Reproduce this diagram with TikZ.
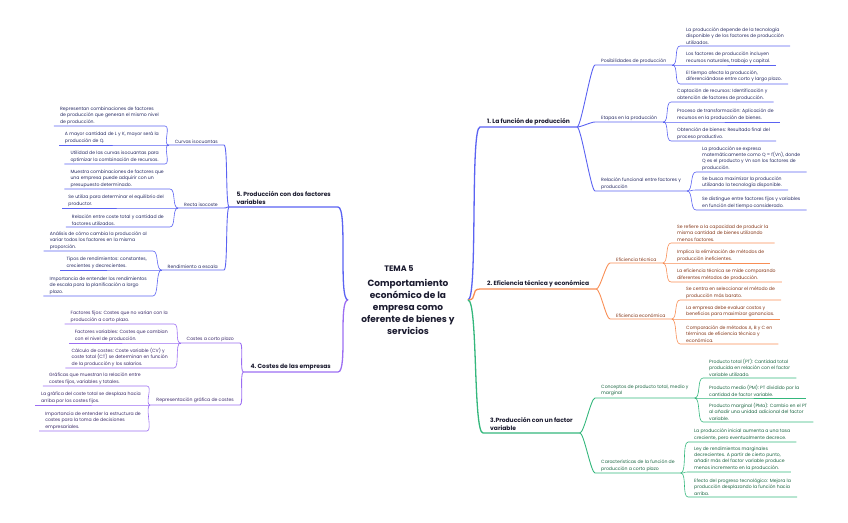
\documentclass[tikz,border=0pt]{standalone}
\usepackage{fontspec}
\setmainfont{Poppins}
\usepackage{tikz}
\definecolor{blueline}{HTML}{5B63F2}
\definecolor{bluetext}{HTML}{262A62}
\definecolor{orangeline}{HTML}{F88E55}
\definecolor{orangetext}{HTML}{833516}
\definecolor{greenline}{HTML}{34B77C}
\definecolor{greentext}{HTML}{1B6541}
\definecolor{purpleline}{HTML}{9C6EF2}
\definecolor{purpletext}{HTML}{3A2968}
\definecolor{ink}{HTML}{1B1B2F}
\newcommand{\mmleaf}{\fontsize{4.6}{6.3}\selectfont}
\newcommand{\mmbranch}{\fontsize{6}{8.4}\selectfont\bfseries}
\newcommand{\mmtitle}{\fontsize{9}{12}\selectfont\bfseries}
\newcommand{\mmtema}{\fontsize{8}{10}\selectfont\bfseries}
\tikzstyle{leafR} = [
 anchor = south west,
 align = left,
 inner xsep = 6pt,
 inner ysep = 1.6pt,
 font = \mmleaf
]
\tikzstyle{leafL} = [leafR, anchor = south east]
\tikzstyle{branchR} = [
 anchor = south west,
 align = left,
 inner xsep = 7pt,
 inner ysep = 2pt,
 font = \mmbranch,
 text = ink
]
\tikzstyle{branchL} = [branchR, anchor = south east]
\tikzstyle{centre} = [align = center, font = \mmtitle, text = ink]
\tikzstyle{trunk} = [line width = 1.3pt]
\tikzstyle{twig} = [line width = 0.9pt]
\tikzstyle{leafline} = [line width = 0.6pt]

\begin{document}
\begin{tikzpicture}[x=1pt, y=-1pt]
  \useasboundingbox (0,0) rectangle (848,522);

  \node [centre] (tema) at (408,300) {{\mmtema TEMA 5}\hspace*{18pt}\\[3pt]Comportamiento\\económico de la\\empresa como\\oferente de bienes y\\servicios};
  \coordinate (cR) at (468,300);
  \coordinate (cL) at (348,300);

  % 1. funcion de produccion
  \begin{scope}[color=blueline, every node/.append style={text=bluetext}]
    \node [branchR] (m1) at (480,127) {1.~La función de producción};
    \node [leafR] (s11) at (595,65) {Posibilidades de producción};
    \node [leafR] (s12) at (595,122) {Etapas en la producción};
    \node [leafR] (s13) at (595,191) {Relación funcional entre factores y\\producción};
    \node [leafR] (l111) at (680,46) {La producción depende de la tecnología\\disponible y de los factores de producción\\utilizados.};
    \node [leafR] (l112) at (680,65) {Los factores de producción incluyen\\recursos naturales, trabajo y capital.};
    \node [leafR] (l113) at (680,84) {El tiempo afecta la producción,\\diferenciándose entre corto y largo plazo.};
    \node [leafR] (l121) at (671,102) {Captación de recursos: Identificación y\\obtención de factores de producción.};
    \node [leafR] (l122) at (671,122) {Proceso de transformación: Aplicación de\\recursos en la producción de bienes.};
    \node [leafR] (l123) at (671,141) {Obtención de bienes: Resultado final del\\proceso productivo.};
    \node [leafR] (l131) at (696,172) {La producción se expresa\\matemáticamente como Q = f(Vn), donde\\Q es el producto y Vn son los factores de\\producción.};
    \node [leafR] (l132) at (696,190) {Se busca maximizar la producción\\utilizando la tecnología disponible.};
    \node [leafR] (l133) at (696,210) {Se distingue entre factores fijos y variables\\en función del tiempo considerado.};
    \draw [trunk] (cR) .. controls +(10,0) and +(-10,0) .. (m1.south west) -- (m1.south east);
    \foreach \s in {s11,s12,s13}
      \draw [twig] (m1.south east) .. controls +(4,0) and +(-4,0) .. (\s.south west) -- (\s.south east);
    \foreach \l in {l111,l112,l113}
      \draw [leafline] (s11.south east) .. controls +(6,0) and +(-6,0) .. (\l.south west) -- (\l.south east);
    \foreach \l in {l121,l122,l123}
      \draw [leafline] (s12.south east) .. controls +(6,0) and +(-6,0) .. (\l.south west) -- (\l.south east);
    \foreach \l in {l131,l132,l133}
      \draw [leafline] (s13.south east) .. controls +(6,0) and +(-6,0) .. (\l.south west) -- (\l.south east);
  \end{scope}

  % 2. eficiencia
  \begin{scope}[color=orangeline, every node/.append style={text=orangetext}]
    \node [branchR] (m2) at (480,289) {2.~Eficiencia técnica y económica};
    \node [leafR] (s21) at (610,263) {Eficiencia técnica};
    \node [leafR] (s22) at (610,319) {Eficiencia económica};
    \node [leafR] (l211) at (671,243) {Se refiere a la capacidad de producir la\\misma cantidad de bienes utilizando\\menos factores.};
    \node [leafR] (l212) at (671,263) {Implica la eliminación de métodos de\\producción ineficientes.};
    \node [leafR] (l213) at (671,282) {La eficiencia técnica se mide comparando\\diferentes métodos de producción.};
    \node [leafR] (l221) at (680,300) {Se centra en seleccionar el método de\\producción más barato.};
    \node [leafR] (l222) at (680,319) {La empresa debe evaluar costos y\\beneficios para maximizar ganancias.};
    \node [leafR] (l223) at (680,344) {Comparación de métodos A, B y C en\\términos de eficiencia técnica y\\económica.};
    \draw [trunk] (cR) .. controls +(10,0) and +(-10,0) .. (m2.south west) -- (m2.south east);
    \foreach \s in {s21,s22}
      \draw [twig] (m2.south east) .. controls +(4,0) and +(-4,0) .. (\s.south west) -- (\s.south east);
    \foreach \l in {l211,l212,l213}
      \draw [leafline] (s21.south east) .. controls +(6,0) and +(-6,0) .. (\l.south west) -- (\l.south east);
    \foreach \l in {l221,l222,l223}
      \draw [leafline] (s22.south east) .. controls +(6,0) and +(-6,0) .. (\l.south west) -- (\l.south east);
  \end{scope}

  % 3. un factor variable
  \begin{scope}[color=greenline, every node/.append style={text=greentext}]
    \node [branchR] (m3) at (483,433) {3.Producción con un factor\\variable};
    \node [leafR] (s31) at (595,398) {Conceptos de producto total, medio y\\marginal};
    \node [leafR] (s32) at (595,473) {Características de la función de\\producción a corto plazo};
    \node [leafR] (l311) at (703,378) {Producto total (PT): Cantidad total\\producida en relación con el factor\\variable utilizado.};
    \node [leafR] (l312) at (703,398) {Producto medio (PM): PT dividido por la\\cantidad de factor variable.};
    \node [leafR] (l313) at (703,422) {Producto marginal (PMa): Cambio en el PT\\al añadir una unidad adicional del factor\\variable.};
    \node [leafR] (l321) at (688,442) {La producción inicial aumenta a una tasa\\creciente, pero eventualmente decrece.};
    \node [leafR] (l322) at (688,472) {Ley de rendimientos marginales\\decrecientes. A partir de cierto punto,\\añadir más del factor variable produce\\menos incremento en la producción.};
    \node [leafR] (l323) at (688,497) {Efecto del progreso tecnológico: Mejora la\\producción desplazando la función hacia\\arriba.};
    \draw [trunk] (cR) .. controls +(10,0) and +(-10,0) .. (m3.south west) -- (m3.south east);
    \foreach \s in {s31,s32}
      \draw [twig] (m3.south east) .. controls +(4,0) and +(-4,0) .. (\s.south west) -- (\s.south east);
    \foreach \l in {l311,l312,l313}
      \draw [leafline] (s31.south east) .. controls +(6,0) and +(-6,0) .. (\l.south west) -- (\l.south east);
    \foreach \l in {l321,l322,l323}
      \draw [leafline] (s32.south east) .. controls +(6,0) and +(-6,0) .. (\l.south west) -- (\l.south east);
  \end{scope}

  % 5. dos factores variables
  \begin{scope}[color=blueline, every node/.append style={text=bluetext}]
    \node [branchL] (m5) at (338,207) {5.~Producción con dos factores\\variables};
    \node [leafL] (s51) at (224,145) {Curvas isocuantas};
    \node [leafL] (s52) at (224,208) {Recta isocoste};
    \node [leafL] (s53) at (224,270) {Rendimiento a escala};
    \node [leafL] (l511) at (165,126) {Representan combinaciones de factores\\de producción que generan el mismo nivel\\de producción.};
    \node [leafL] (l512) at (165,145) {A mayor cantidad de L y K, mayor será la\\producción de Q.};
    \node [leafL] (l513) at (165,164) {Utilidad de las curvas isocuantas para\\optimizar la combinación de recursos.};
    \node [leafL] (l521) at (170,189) {Muestra combinaciones de factores que\\una empresa puede adquirir con un\\presupuesto determinado.};
    \node [leafL] (l522) at (170,208) {Se utiliza para determinar el equilibrio del\\productor.};
    \node [leafL] (l523) at (170,227) {Relación entre coste total y cantidad de\\factores utilizados.};
    \node [leafL] (l531) at (153,251) {Análisis de cómo cambia la producción al\\variar todos los factores en la misma\\proporción.};
    \node [leafL] (l532) at (153,270) {Tipos de rendimientos: constantes,\\crecientes y decrecientes.};
    \node [leafL] (l533) at (153,296) {Importancia de entender los rendimientos\\de escala para la planificación a largo\\plazo.};
    \draw [trunk] (cL) .. controls +(-10,0) and +(10,0) .. (m5.south east) -- (m5.south west);
    \foreach \s in {s51,s52,s53}
      \draw [twig] (m5.south west) .. controls +(-4,0) and +(4,0) .. (\s.south east) -- (\s.south west);
    \foreach \l in {l511,l512,l513}
      \draw [leafline] (s51.south west) .. controls +(-6,0) and +(6,0) .. (\l.south east) -- (\l.south west);
    \foreach \l in {l521,l522,l523}
      \draw [leafline] (s52.south west) .. controls +(-6,0) and +(6,0) .. (\l.south east) -- (\l.south west);
    \foreach \l in {l531,l532,l533}
      \draw [leafline] (s53.south west) .. controls +(-6,0) and +(6,0) .. (\l.south east) -- (\l.south west);
  \end{scope}

  % 4. costes
  \begin{scope}[color=purpleline, every node/.append style={text=purpletext}]
    \node [branchL] (m4) at (338,372) {4.~Costes de las empresas};
    \node [leafL] (s41) at (240,343) {Costes a corto plazo};
    \node [leafL] (s42) at (240,405) {Representación gráfica de costes};
    \node [leafL] (l411) at (174,324) {Factores fijos: Costes que no varían con la\\producción a corto plazo.};
    \node [leafL] (l412) at (174,343) {Factores variables: Costes que cambian\\con el nivel de producción.};
    \node [leafL] (l413) at (174,368) {Cálculo de costes: Coste variable (CV) y\\coste total (CT) se determinan en función\\de la producción y los salarios.};
    \node [leafL] (l421) at (147,386) {Gráficas que muestran la relación entre\\costes fijos, variables y totales.};
    \node [leafL] (l422) at (147,405) {La gráfica del coste total se desplaza hacia\\arriba por los costes fijos.};
    \node [leafL] (l423) at (147,431) {Importancia de entender la estructura de\\costes para la toma de decisiones\\empresariales.};
    \draw [trunk] (cL) .. controls +(-10,0) and +(10,0) .. (m4.south east) -- (m4.south west);
    \foreach \s in {s41,s42}
      \draw [twig] (m4.south west) .. controls +(-4,0) and +(4,0) .. (\s.south east) -- (\s.south west);
    \foreach \l in {l411,l412,l413}
      \draw [leafline] (s41.south west) .. controls +(-6,0) and +(6,0) .. (\l.south east) -- (\l.south west);
    \foreach \l in {l421,l422,l423}
      \draw [leafline] (s42.south west) .. controls +(-6,0) and +(6,0) .. (\l.south east) -- (\l.south west);
  \end{scope}
\end{tikzpicture}
\end{document}
